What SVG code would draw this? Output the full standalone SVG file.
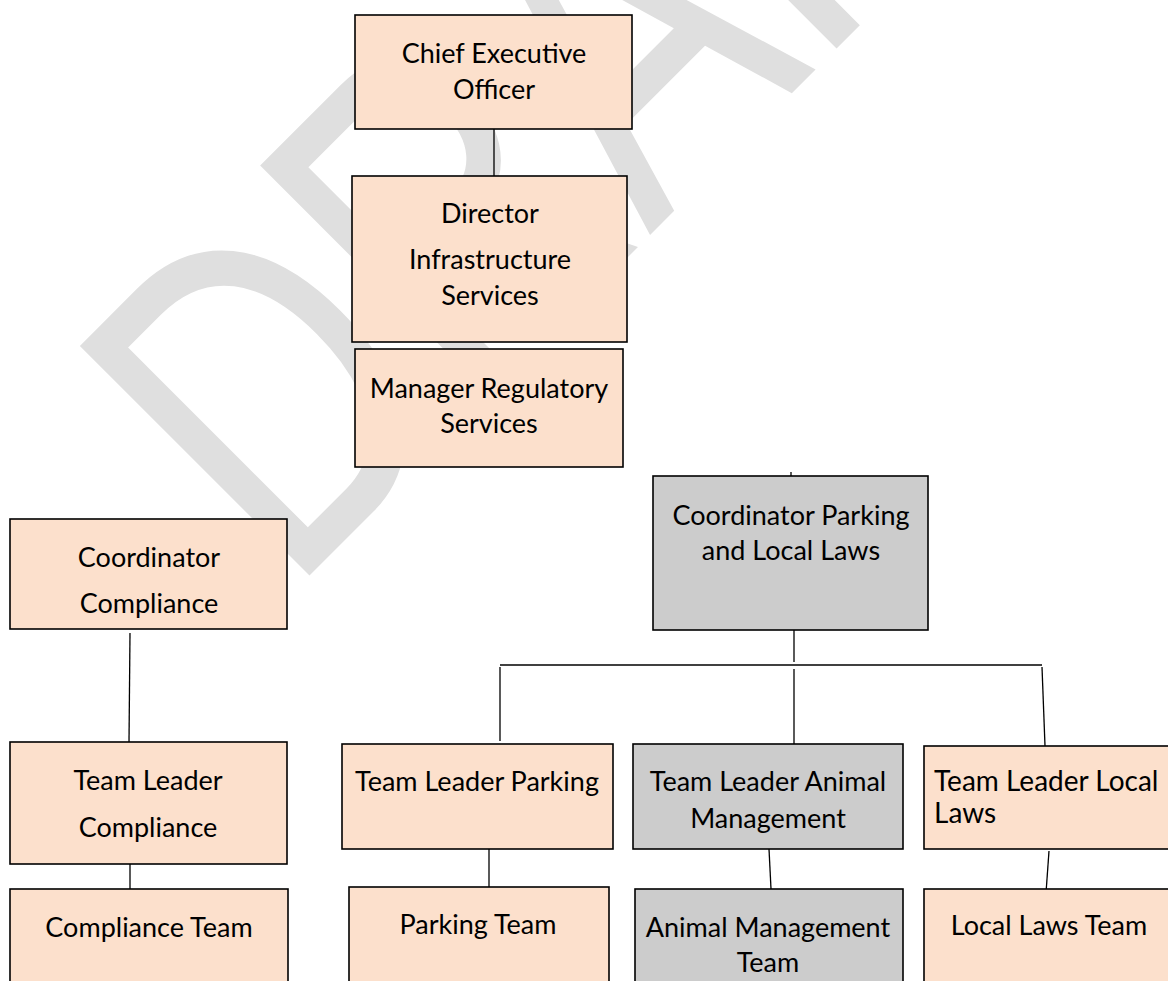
<svg xmlns="http://www.w3.org/2000/svg" width="1168" height="981" viewBox="0 0 1168 981">
<style>
.bx{stroke:#000;stroke-width:1.6}
.pe{fill:#fce0cc}
.gr{fill:#cccccc}
.t{font-family:Lato,"Open Sans","Liberation Sans",sans-serif;font-size:27px;fill:#000;text-anchor:middle}
.tl{text-anchor:start;font-size:28px}
.cn{stroke:#000;stroke-width:1.3;fill:none}
.wm{font-family:"Liberation Sans",Arial,sans-serif;font-size:472px;fill:#dfdfdf}
</style>
<rect width="1168" height="981" fill="#fff"/>
<g id="watermark">
<text class="wm" transform="translate(289,596) rotate(-45) scale(0.748,1)" x="0" y="0">DRAFT</text>
</g>
<g id="connectors">
<path class="cn" d="M494 129V176"/>
<path class="cn" d="M791 472V476"/>
<path class="cn" d="M130 633L129 742"/>
<path class="cn" d="M130 852V893"/>
<path class="cn" d="M794 630V662"/>
<path class="cn" d="M500 665H1042"/>
<path class="cn" d="M500 667V741"/>
<path class="cn" d="M794 669V744"/>
<path class="cn" d="M1042 667L1045 746"/>
<path class="cn" d="M489 849V888"/>
<path class="cn" d="M769 849L771 889"/>
<path class="cn" d="M1049 851L1046 893"/>
</g>
<g id="ceo"><rect class="bx pe" x="355" y="15" width="277" height="114"/><text class="t" x="494" y="63">Chief Executive</text><text class="t" x="494" y="99">Officer</text></g>
<g id="director"><rect class="bx pe" x="352" y="176" width="275" height="166"/><text class="t" x="490" y="223">Director</text><text class="t" x="490" y="269">Infrastructure</text><text class="t" x="490" y="305">Services</text></g>
<g id="manager"><rect class="bx pe" x="355" y="349" width="268" height="118"/><text class="t" x="489" y="398">Manager Regulatory</text><text class="t" x="489" y="433">Services</text></g>
<g id="coord-compliance"><rect class="bx pe" x="10" y="519" width="277" height="110"/><text class="t" x="149" y="567">Coordinator</text><text class="t" x="149" y="613">Compliance</text></g>
<g id="tl-compliance"><rect class="bx pe" x="10" y="742" width="277" height="122"/><text class="t" x="148" y="790">Team Leader</text><text class="t" x="148" y="837">Compliance</text></g>
<g id="compliance-team"><rect class="bx pe" x="10" y="889" width="278" height="110"/><text class="t" x="149" y="937">Compliance Team</text></g>
<g id="coord-parking"><rect class="bx gr" x="653" y="476" width="275" height="154"/><text class="t" x="791" y="525">Coordinator Parking</text><text class="t" x="791" y="560">and Local Laws</text></g>
<g id="tl-parking"><rect class="bx pe" x="342" y="744" width="271" height="105"/><text class="t" x="477" y="791">Team Leader Parking</text></g>
<g id="tl-animal"><rect class="bx gr" x="633" y="744" width="270" height="105"/><text class="t" x="768" y="791">Team Leader Animal</text><text class="t" x="768" y="828">Management</text></g>
<g id="tl-local"><rect class="bx pe" x="924" y="746" width="260" height="103"/><text class="t tl" x="934" y="791">Team Leader Local</text><text class="t tl" x="934" y="823">Laws</text></g>
<g id="parking-team"><rect class="bx pe" x="349" y="887" width="260" height="110"/><text class="t" x="478" y="934">Parking Team</text></g>
<g id="animal-team"><rect class="bx gr" x="635" y="889" width="268" height="110"/><text class="t" x="768" y="937">Animal Management</text><text class="t" x="768" y="972">Team</text></g>
<g id="local-team"><rect class="bx pe" x="924" y="889" width="260" height="110"/><text class="t" x="1049" y="935">Local Laws Team</text></g>
</svg>
